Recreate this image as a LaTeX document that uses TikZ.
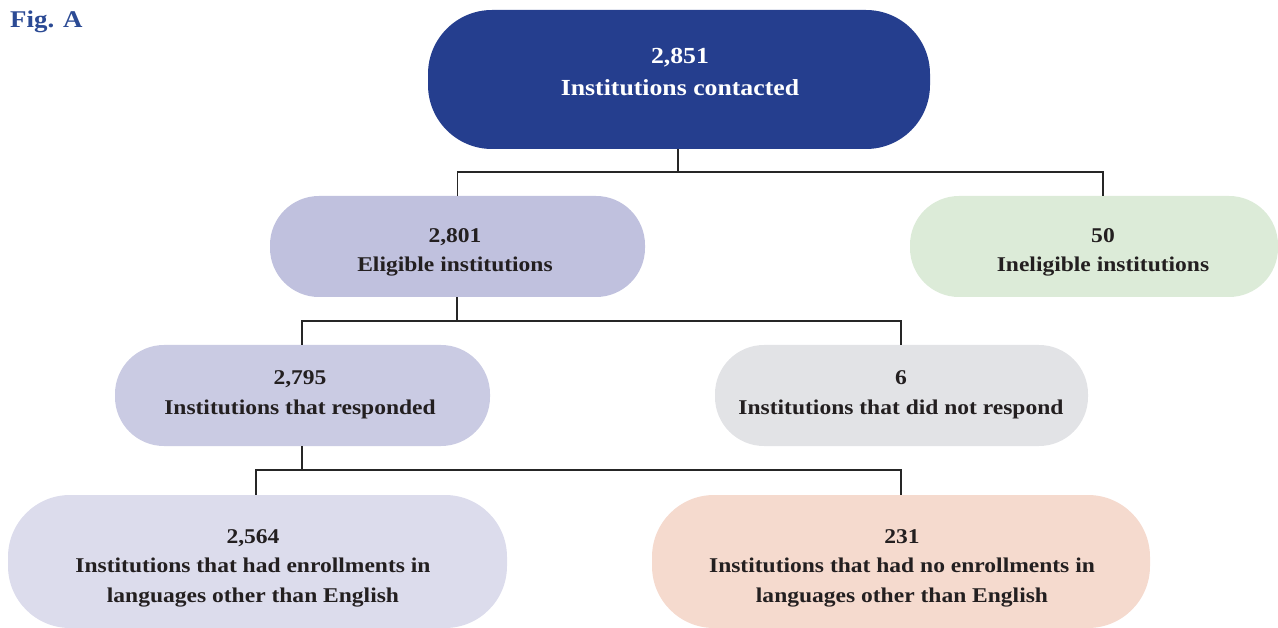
\documentclass[tikz,border=0pt]{standalone}
\usepackage{fontspec}
\setmainfont{Liberation Serif}
\newfontfamily\widefont[FakeStretch=1.12]{Liberation Serif}
\definecolor{topblue}{HTML}{253E8E}
\definecolor{eligc}{HTML}{C0C1DE}
\definecolor{inelc}{HTML}{DCEBD8}
\definecolor{respc}{HTML}{CACBE3}
\definecolor{noresc}{HTML}{E2E3E6}
\definecolor{enrc}{HTML}{DCDCEC}
\definecolor{noenrc}{HTML}{F5DACE}
\definecolor{txt}{HTML}{231F20}
\definecolor{figc}{HTML}{2B4A94}
\tikzset{
  pill/.style={draw=none, rectangle, rounded corners=#1, inner sep=0pt},
  lbl/.style={align=center, font=\widefont\fontsize{21}{29.5}\selectfont\bfseries, text=txt, inner sep=0pt},
  conn/.style={draw=black!85, line width=1.4pt}
}
\begin{document}
\begin{tikzpicture}[x=1pt,y=-1pt]
\useasboundingbox (0,0) rectangle (1278,628);
% shapes
\node[pill=64pt, fill=topblue, minimum width=502pt, minimum height=139pt] (top) at (679,79.5) {};
\node[pill=49pt, fill=eligc, minimum width=375pt, minimum height=101pt] (elig) at (457.5,246.5) {};
\node[pill=49pt, fill=inelc, minimum width=368pt, minimum height=101pt] (inel) at (1094,246.5) {};
\node[pill=49pt, fill=respc, minimum width=375pt, minimum height=101pt] (resp) at (302.5,395.5) {};
\node[pill=49pt, fill=noresc, minimum width=373pt, minimum height=101pt] (nores) at (901.5,395.5) {};
\node[pill=62pt, fill=enrc, minimum width=499pt, minimum height=133pt] (enr) at (257.5,561.5) {};
\node[pill=62pt, fill=noenrc, minimum width=498pt, minimum height=133pt] (noenr) at (901,561.5) {};
% texts
\node[lbl, text=white, font=\widefont\fontsize{23}{32}\selectfont\bfseries] (ttop) at (680,72) {2,851\\Institutions contacted};
\node[lbl] (telig) at (455,252.5) {2,801\\Eligible institutions};
\node[lbl] (tinel) at (1103,252.5) {50\\Ineligible institutions};
\node[lbl] (tresp) at (300,395) {2,795\\Institutions that responded};
\node[lbl] (tnores) at (901,395) {6\\Institutions that did not respond};
\node[lbl] (tenr) at (253,568) {2,564\\Institutions that had enrollments in\\languages other than English};
\node[lbl] (tnoenr) at (902,568) {231\\Institutions that had no enrollments in\\languages other than English};
\node[anchor=north west, inner sep=0pt, text=figc, font=\widefont\fontsize{24}{28}\selectfont\bfseries] (fig) at (10,11) {Fig. A};
% connectors
\coordinate (j1) at (678,172);
\coordinate (j2) at (457,321);
\coordinate (j3) at (302,470);
\draw[conn] (top.south -| j1) -- (j1);
\draw[conn] (j1) -| (elig.north);
\draw[conn] (j1) -| ([xshift=9pt]inel.north);
\draw[conn] (elig.south -| j2) -- (j2);
\draw[conn] (j2) -| ([xshift=-0.5pt]resp.north);
\draw[conn] (j2) -| ([xshift=-0.5pt]nores.north);
\draw[conn] (resp.south -| j3) -- (j3);
\draw[conn] (j3) -| ([xshift=-1.5pt]enr.north);
\draw[conn] (j3) -| (noenr.north);
\end{tikzpicture}
\end{document}
